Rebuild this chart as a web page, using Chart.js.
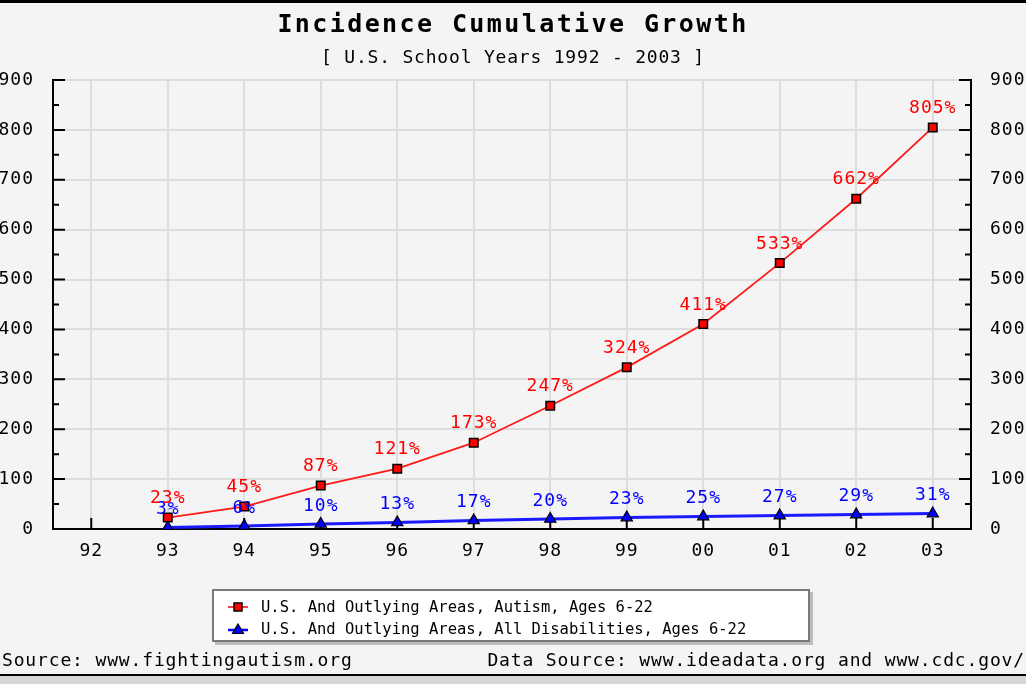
<!DOCTYPE html>
<html>
<head>
<meta charset="utf-8">
<script src="https://cdn.jsdelivr.net/npm/chart.js@4"></script>
<style>
  body { margin: 0; background: #f4f4f4; }
  #wrap { position: relative; width: 1026px; height: 684px; overflow: hidden; background: #f4f4f4;
          font-family: 'DejaVu Sans Mono', monospace; color: #000; }
  #wrap canvas { position: absolute; left: 0; top: 0; }
  .topbar { position: absolute; left: 0; top: 0; width: 1026px; height: 3px; background: #000; }
  .botbar { position: absolute; left: 0; top: 674px; width: 1026px; height: 2px; background: #000; }
  .botfill { position: absolute; left: 0; top: 676px; width: 1026px; height: 8px; background: #d6d6d6; }
  .title { position: absolute; left: 0; width: 1026px; text-align: center; top: 9px; font-size: 25px;
           font-weight: bold; letter-spacing: 2.4px; line-height: 30px; }
  .subtitle { position: absolute; left: 0; width: 1026px; text-align: center; top: 46px; font-size: 18px;
              letter-spacing: 0.8px; line-height: 22px; }
  .legend { position: absolute; left: 212px; top: 589px; width: 594px; height: 49px; background: #fff;
            border: 2px solid #7a7a7a; box-shadow: 3px 3px 0 #bdbdbd; }
  .legend .row { position: absolute; left: 13px; height: 20px; line-height: 20px; font-size: 15.5px; white-space: nowrap; }
  .legend svg { vertical-align: middle; margin-right: 12px; position: relative; top: -1px; }
  .foot { position: absolute; top: 649px; font-size: 18px; letter-spacing: 0.85px; line-height: 22px; white-space: nowrap; }
</style>
</head>
<body>
<div id="wrap">
  <canvas id="chart" width="1026" height="684"></canvas>
  <div class="topbar"></div>
  <div class="title">Incidence Cumulative Growth</div>
  <div class="subtitle">[ U.S. School Years 1992 - 2003 ]</div>
  <div class="legend">
    <div class="row" style="top:6px"><svg width="22" height="12"><line x1="1" y1="6" x2="21" y2="6" stroke="#ff0000" stroke-width="1.5"/><rect x="7" y="2" width="8" height="8" fill="#ff0000" stroke="#000" stroke-width="1.5"/></svg><span id="lg0"></span></div>
    <div class="row" style="top:28px"><svg width="22" height="12"><line x1="1" y1="7" x2="21" y2="7" stroke="#0000ff" stroke-width="2.5"/><polygon points="11,1 16.5,10.5 5.5,10.5" fill="#0000ff" stroke="#000" stroke-width="1.2"/></svg><span id="lg1"></span></div>
  </div>
  <div class="foot" style="left:2px">Source: www.fightingautism.org</div>
  <div class="foot" style="right:1px">Data Source: www.ideadata.org and www.cdc.gov/</div>
  <div class="botbar"></div>
  <div class="botfill"></div>
</div>
<script>
// school years on the x axis
const yearLabels = ['92', '93', '94', '95', '96', '97', '98', '99', '00', '01', '02', '03'];
// cumulative growth in percent, no value for 92
const autismGrowth = [null, 23, 45, 87, 121, 173, 247, 324, 411, 533, 662, 805];
const allDisabilitiesGrowth = [null, 3, 6, 10, 13, 17, 20, 23, 25, 27, 29, 31];
const yTicks = [0, 100, 200, 300, 400, 500, 600, 700, 800, 900];
const seriesNames = [
    'U.S. And Outlying Areas, Autism, Ages 6-22',
    'U.S. And Outlying Areas, All Disabilities, Ages 6-22'
];

document.getElementById('lg0').textContent = seriesNames[0];
document.getElementById('lg1').textContent = seriesNames[1];

function toPoints(values) {
    return values.map((v, i) => ({ x: i, y: v })).filter(p => p.y !== null);
}

const monoFont = { family: 'DejaVu Sans Mono', size: 18 };

// the original's text is a wide pixel font, spread the letters a bit
const wideText = {
    id: 'wideText',
    beforeDraw(chart) {
        chart.ctx.letterSpacing = '1px';
    }
};

// little inward ticks on the axes, like the original
const axisTicks = {
    id: 'axisTicks',
    beforeDatasetsDraw(chart) {
        const ctx = chart.ctx;
        const area = chart.chartArea;
        const x = chart.scales.x;
        const y = chart.scales.y;
        ctx.save();
        ctx.strokeStyle = '#000';
        ctx.lineWidth = 2;
        ctx.beginPath();
        yearLabels.forEach((_, i) => {
            const px = x.getPixelForValue(i);
            ctx.moveTo(px, area.bottom);
            ctx.lineTo(px, area.bottom - 11);
        });
        for (let v = yTicks[0]; v <= yTicks[yTicks.length - 1]; v += 50) {
            const py = y.getPixelForValue(v);
            const len = v % 100 === 0 ? 12 : 6;
            ctx.moveTo(area.left, py);
            ctx.lineTo(area.left + len, py);
            ctx.moveTo(area.right, py);
            ctx.lineTo(area.right - len, py);
        }
        ctx.stroke();
        ctx.restore();
    }
};

// percentage labels above each point
const pointLabels = {
    id: 'pointLabels',
    afterDatasetsDraw(chart) {
        const ctx = chart.ctx;
        ctx.save();
        ctx.font = '18px "DejaVu Sans Mono"';
        ctx.textAlign = 'center';
        ctx.textBaseline = 'middle';
        chart.data.datasets.forEach((ds, di) => {
            const meta = chart.getDatasetMeta(di);
            ctx.fillStyle = ds.labelColor;
            meta.data.forEach((pt, i) => {
                ctx.fillText(ds.data[i].y + '%', pt.x, pt.y - ds.labelOffset);
            });
        });
        ctx.restore();
    }
};

new Chart(document.getElementById('chart'), {
    type: 'line',
    data: {
        datasets: [
            {
                label: seriesNames[1],
                data: toPoints(allDisabilitiesGrowth),
                borderColor: '#1a1aff',
                borderWidth: 3,
                pointStyle: 'triangle',
                pointRadius: 6.5,
                pointBackgroundColor: '#0000ff',
                pointBorderColor: '#000',
                pointBorderWidth: 1.2,
                labelColor: '#0000ff',
                labelOffset: 18,
                tension: 0
            },
            {
                label: seriesNames[0],
                data: toPoints(autismGrowth),
                borderColor: '#ff1a1a',
                borderWidth: 1.8,
                pointStyle: 'rect',
                pointRadius: 6,
                pointBackgroundColor: '#ff0000',
                pointBorderColor: '#000',
                pointBorderWidth: 1.5,
                labelColor: '#ff0000',
                labelOffset: 19,
                tension: 0
            }
        ]
    },
    options: {
        responsive: false,
        animation: false,
        layout: { padding: { top: 80, bottom: 115, left: 0, right: 0 } },
        plugins: {
            legend: { display: false },
            title: { display: false },
            tooltip: { enabled: false }
        },
        scales: {
            x: {
                type: 'linear',
                min: -0.5,
                max: 11.5,
                afterBuildTicks: s => { s.ticks = yearLabels.map((_, i) => ({ value: i })); },
                afterFit: s => { s.height = 40; },
                grid: { color: '#dddddd', lineWidth: 2, drawTicks: false },
                border: { color: '#000', width: 2 },
                ticks: { font: monoFont, color: '#000', padding: 12, callback: v => yearLabels[v] }
            },
            y: {
                position: 'left',
                min: 0,
                max: 900,
                afterBuildTicks: s => { s.ticks = yTicks.map(v => ({ value: v })); },
                afterFit: s => { s.width = 53; },
                grid: { color: '#dddddd', lineWidth: 2, drawTicks: false },
                border: { color: '#000', width: 2 },
                ticks: { font: monoFont, color: '#000', padding: 19 }
            },
            y2: {
                position: 'right',
                min: 0,
                max: 900,
                afterBuildTicks: s => { s.ticks = yTicks.map(v => ({ value: v })); },
                afterFit: s => { s.width = 55; },
                grid: { display: false, drawTicks: false },
                border: { color: '#000', width: 2 },
                ticks: { font: monoFont, color: '#000', padding: 19 }
            }
        }
    },
    plugins: [wideText, axisTicks, pointLabels]
});
</script>
</body>
</html>
